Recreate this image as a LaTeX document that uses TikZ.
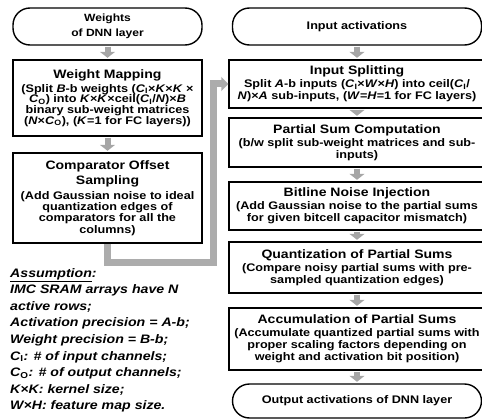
\documentclass[tikz,border=0pt]{standalone}
\usepackage{fontspec}
\setmainfont{Liberation Sans}[FakeStretch=1.15]
\usetikzlibrary{arrows.meta,positioning}
\newcommand{\ttl}[1]{{\fontsize{12.2}{14}\selectfont #1}}
\newcommand{\CI}{\textit{C}\textsubscript{I}}
\newcommand{\CO}{\textit{C}\textsubscript{O}}

\begin{document}
\begin{tikzpicture}[x=1pt, y=-1pt,
  term/.style={draw, line width=1.4pt, rounded corners=17pt, minimum height=37pt, align=center, inner sep=0pt, font=\fontsize{11}{15}\selectfont\bfseries},
  blk/.style={draw, line width=1.4pt, inner sep=0pt, align=center, font=\fontsize{11}{12}\selectfont\bfseries},
  lft/.style={minimum width=189pt},
  rgt/.style={minimum width=256pt},
  garr/.style={draw=gray!70, line width=6pt, -{Triangle[length=6pt,width=15pt]}, shorten <=1pt, shorten >=1.5pt},
  bigarr/.style={draw=gray!65, line width=7pt, -{Triangle[length=7pt,width=14pt]}}]
  \useasboundingbox (0,0) rectangle (482,420);
  % ---------------- weights
  \node[term, minimum width=189pt, font=\fontsize{10.5}{15}\selectfont\bfseries] (wts) at (107.5,26.5) {Weights\\of DNN layer};
  \node[blk, lft, minimum height=76pt, font=\fontsize{11}{10.7}\selectfont\bfseries] (wmap) at (107.5,98) {\ttl{Weight Mapping}\\[3pt](Split \textit{B}-b weights (\CI×\textit{K}×\textit{K} ×\\\CO) into \textit{K}×\textit{K}×ceil(\CI/\textit{N})×\textit{B}\\binary sub-weight matrices\\(\textit{N}×\CO), (\textit{K}=1 for FC layers))};
  \node[blk, lft, minimum height=90pt, font=\fontsize{11}{11.3}\selectfont\bfseries] (comp) at (107.5,198) {\ttl{Comparator Offset}\\[2.5pt]\ttl{Sampling}\\[3.5pt](Add Gaussian noise to ideal\\quantization edges of\\comparators for all the\\columns)};
  \draw[garr] (wts.south) -- (wmap.north);
  \draw[garr] (wmap.south) -- (comp.north);
  % ---------------- activations
  \node[term, minimum width=249pt] (inact) at (357,26.5) {Input activations};
  \node[blk, rgt, minimum height=48pt] (insplit) at (357,84) {\ttl{Input Splitting}\\[1pt]Split \textit{A}-b inputs (\CI×\textit{W}×\textit{H}) into ceil(\CI/\\\textit{N})×\textit{A} sub-inputs, (\textit{W}=\textit{H}=1 for FC layers)};
  \node[blk, rgt, minimum height=49pt] (psum) at (357,142.5) {\ttl{Partial Sum Computation}\\[1pt](b/w split sub-weight matrices and sub-\\inputs)};
  \node[blk, rgt, minimum height=48pt] (noise) at (357,206) {\ttl{Bitline Noise Injection}\\[1pt](Add Gaussian noise to the partial sums\\for given bitcell capacitor mismatch)};
  \node[blk, rgt, minimum height=51pt] (quant) at (357,267.5) {\ttl{Quantization of Partial Sums}\\[1pt](Compare noisy partial sums with pre-\\sampled quantization edges)};
  \node[blk, rgt, minimum height=62pt] (accum) at (357,339) {\ttl{Accumulation of Partial Sums}\\[1pt](Accumulate quantized partial sums with\\proper scaling factors depending on\\weight and activation bit position)};
  \node[term, minimum width=249pt, minimum height=34pt] (outact) at (357,401) {Output activations of DNN layer};
  \foreach \a/\b in {inact/insplit, insplit/psum, psum/noise, noise/quant, quant/accum, accum/outact}{
    \draw[garr] (\a.south) -- (\b.north);}
  % ---------------- sub-weights to input splitting
  \coordinate (turn) at (213,262);
  \draw[bigarr] (comp.south) |- (turn) |- (insplit.west);
  % ---------------- assumption
  \node[anchor=north west, align=left, inner sep=0pt, font=\fontsize{12.3}{16.6}\selectfont\bfseries\itshape] (assum) at (10,268)
    {\underline{Assumption}:\\IMC SRAM arrays have N\\active rows;\\Activation precision = A-b;\\Weight precision = B-b;\\C\textsubscript{\upshape I}: \# of input channels;\\C\textsubscript{\upshape O}: \# of output channels;\\K×K: kernel size;\\W×H: feature map size.};
\end{tikzpicture}
\end{document}
